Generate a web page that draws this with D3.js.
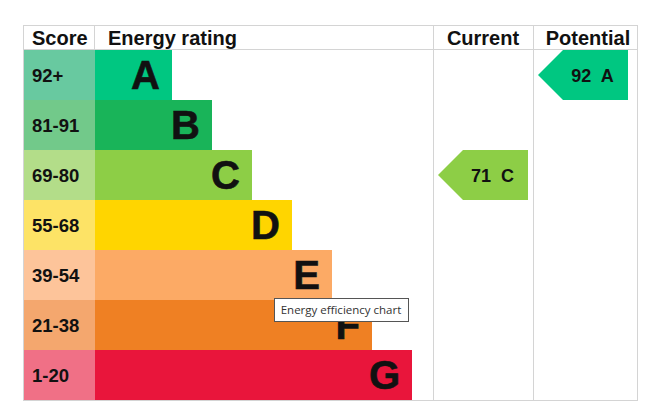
<!DOCTYPE html>
<html>
<head>
<meta charset="utf-8">
<script src="https://cdn.jsdelivr.net/npm/d3@7"></script>
<style>
body { margin: 0; background: #fff; }
text { font-family: "Liberation Sans", Arial, sans-serif; }
</style>
</head>
<body>
<div id="chart"></div>
<script>
// energy bands, top to bottom
var bands = ["A", "B", "C", "D", "E", "F", "G"];
var scoreLabels = ["92+", "81-91", "69-80", "55-68", "39-54", "21-38", "1-20"];
var bandMin = [92, 81, 69, 55, 39, 21, 1];
var barColors = ["#00c781", "#19b459", "#8dce46", "#ffd500", "#fcaa65", "#ef8023", "#e9153b"];
var scoreColors = ["#68c9a0", "#72c98a", "#b3dd89", "#fde366", "#fdc49a", "#f4a76e", "#f07086"];
var currentScore = 71;
var potentialScore = 92;

var W = 671, H = 410;
var leftX = 23, scoreRight = 95, curLeft = 433, potLeft = 533, rightX = 637;
var topY = 25, headBottom = 50, bottomY = 400;

var svg = d3.select("#chart")
  .append("svg")
  .attr("width", W)
  .attr("height", H);

var y = d3.scaleBand()
  .domain(bands)
  .range([headBottom, bottomY]);

// bar end grows one step per band
var barEnd = d3.scaleLinear()
  .domain([0, bands.length - 1])
  .range([172, 412]);

var color = d3.scaleOrdinal().domain(bands).range(barColors);
var scoreColor = d3.scaleOrdinal().domain(bands).range(scoreColors);

function bandOf(score) {
  for (var i = 0; i < bands.length; i++) {
    if (score >= bandMin[i]) return bands[i];
  }
  return bands[bands.length - 1];
}

// score column
svg.selectAll("rect.score")
  .data(bands)
  .enter()
  .append("rect")
  .attr("class", "score")
  .attr("x", leftX)
  .attr("y", function(d) { return y(d); })
  .attr("width", scoreRight - leftX)
  .attr("height", y.bandwidth())
  .attr("fill", function(d) { return scoreColor(d); });

svg.selectAll("text.score")
  .data(bands)
  .enter()
  .append("text")
  .attr("class", "score")
  .attr("x", 32)
  .attr("y", function(d) { return y(d) + y.bandwidth() / 2 + 7; })
  .attr("font-size", 18.5)
  .attr("font-weight", "bold")
  .attr("fill", "#111")
  .text(function(d, i) { return scoreLabels[i]; });

// rating bars
svg.selectAll("rect.bar")
  .data(bands)
  .enter()
  .append("rect")
  .attr("class", "bar")
  .attr("x", scoreRight)
  .attr("y", function(d) { return y(d); })
  .attr("width", function(d, i) { return barEnd(i) - scoreRight; })
  .attr("height", y.bandwidth())
  .attr("fill", function(d) { return color(d); });

svg.selectAll("text.letter")
  .data(bands)
  .enter()
  .append("text")
  .attr("class", "letter")
  .attr("x", function(d, i) { return barEnd(i) - 12; })
  .attr("y", function(d) { return y(d) + y.bandwidth() / 2 + 14; })
  .attr("text-anchor", "end")
  .attr("font-size", 40)
  .attr("font-weight", "bold")
  .attr("fill", "#111")
  .attr("stroke", "#111")
  .attr("stroke-width", 0.6)
  .text(function(d) { return d; });

// grid lines
var grey = "#d4d4d4";
svg.append("rect")
  .attr("x", leftX + 0.5).attr("y", topY + 0.5)
  .attr("width", rightX - leftX).attr("height", bottomY - topY)
  .attr("fill", "none").attr("stroke", grey);
svg.append("line")
  .attr("x1", leftX).attr("x2", rightX)
  .attr("y1", headBottom - 0.5).attr("y2", headBottom - 0.5)
  .attr("stroke", grey);
svg.append("line")
  .attr("x1", scoreRight - 0.5).attr("x2", scoreRight - 0.5)
  .attr("y1", topY).attr("y2", headBottom)
  .attr("stroke", grey);
[curLeft, potLeft].forEach(function(x) {
  svg.append("line")
    .attr("x1", x + 0.5).attr("x2", x + 0.5)
    .attr("y1", topY).attr("y2", bottomY)
    .attr("stroke", grey);
});

// headers
var headers = [
  { t: "Score", x: 32, a: "start" },
  { t: "Energy rating", x: 108, a: "start" },
  { t: "Current", x: (curLeft + potLeft) / 2, a: "middle" },
  { t: "Potential", x: (potLeft + rightX) / 2 + 3, a: "middle" }
];
svg.selectAll("text.head")
  .data(headers)
  .enter()
  .append("text")
  .attr("class", "head")
  .attr("x", function(d) { return d.x; })
  .attr("y", 45)
  .attr("text-anchor", function(d) { return d.a; })
  .attr("font-size", 20)
  .attr("font-weight", "bold")
  .attr("fill", "#111")
  .text(function(d) { return d.t; });

// arrows for current / potential
function arrow(score, colLeft) {
  var b = bandOf(score);
  var y0 = y(b), h = y.bandwidth();
  var x0 = colLeft + 5, tip = 25, x1 = colLeft + 95;
  var pts = [[x0, y0 + h / 2], [x0 + tip, y0], [x1, y0], [x1, y0 + h], [x0 + tip, y0 + h]];
  svg.append("path")
    .attr("d", d3.line()(pts) + "Z")
    .attr("fill", color(b));
  svg.append("text")
    .attr("x", (x0 + tip + x1) / 2 - 3)
    .attr("y", y0 + h / 2 + 7)
    .attr("text-anchor", "middle")
    .attr("font-size", 18)
    .attr("font-weight", "bold")
    .attr("fill", "#111")
    .attr("xml:space", "preserve")
    .text(score + "  " + b);
}
arrow(currentScore, curLeft);
arrow(potentialScore, potLeft);

// hover tooltip as captured
var tip = svg.append("g").attr("transform", "translate(274,298)");
tip.append("rect")
  .attr("x", 0.5).attr("y", 0.5)
  .attr("width", 134).attr("height", 23)
  .attr("fill", "#fff").attr("stroke", "#555");
tip.append("text")
  .attr("x", 67).attr("y", 16)
  .attr("text-anchor", "middle")
  .attr("font-size", 11.5)
  .attr("fill", "#333")
  .style("font-family", "'Open Sans', 'Noto Sans', sans-serif")
  .text("Energy efficiency chart");
</script>
</body>
</html>
